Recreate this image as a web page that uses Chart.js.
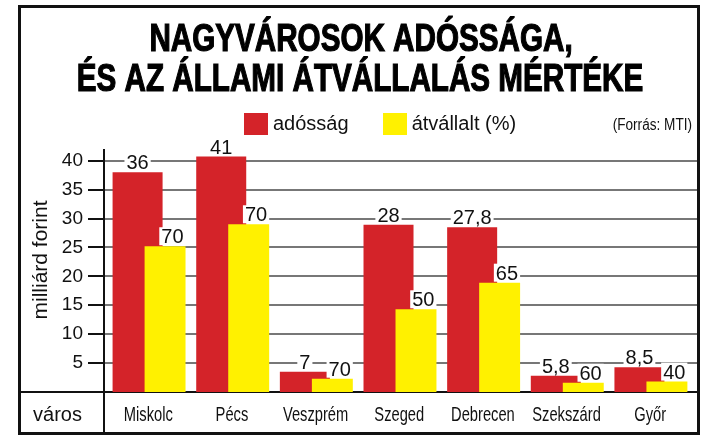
<!DOCTYPE html>
<html>
<head>
<meta charset="utf-8">
<script src="https://cdn.jsdelivr.net/npm/chart.js@4.4.1/dist/chart.umd.min.js"></script>
<style>
  body { margin: 0; background: #fff; }
  #wrap { position: relative; width: 714px; height: 435px; }
  #legend { position: absolute; left: 244px; top: 112px; display: flex; align-items: center;
            font: 20px "Liberation Sans", Arial, sans-serif; color: #111; }
  #legend .item { display: flex; align-items: center; margin-right: 34px; }
  #legend .box { width: 24px; height: 22px; margin-right: 5px; }
</style>
</head>
<body>
<div id="wrap">
  <canvas id="chart" width="714" height="435"></canvas>
  <div id="legend"></div>
</div>
<script>
const titleLines = ['NAGYVÁROSOK ADÓSSÁGA,', 'ÉS AZ ÁLLAMI ÁTVÁLLALÁS MÉRTÉKE'];
const cities = ['Miskolc', 'Pécs', 'Veszprém', 'Szeged', 'Debrecen', 'Szekszárd', 'Győr'];
// bar heights as drawn in the picture (milliárd forint)
const debt = [38, 40.7, 3.5, 28.9, 28.5, 2.8, 4.3];
const debtLabels = ['36', '41', '7', '28', '27,8', '5,8', '8,5'];
const takenOver = [25.2, 29, 2.3, 14.3, 18.9, 1.6, 1.8];
const takenOverPct = ['70', '70', '70', '50', '65', '60', '40'];
const yTicks = [5, 10, 15, 20, 25, 30, 35, 40];

const RED = '#d42329';
const YELLOW = '#fff100';
const SANS = '"Liberation Sans", Arial, sans-serif';

const AXIS_X = 104;   // vertical divider line
const RIGHT_X = 697;  // inner edge of the frame
const BOTTOM_Y = 433;

// text squeezed horizontally, the original uses a condensed face
function squeezed(ctx, text, x, y, font, sx, align, heavy) {
  ctx.save();
  ctx.translate(x, y);
  ctx.scale(sx, 1);
  ctx.font = font;
  ctx.textAlign = align || 'center';
  ctx.fillText(text, 0, 0);
  if (heavy) {
    ctx.lineWidth = heavy;
    ctx.strokeStyle = ctx.fillStyle;
    ctx.strokeText(text, 0, 0);
  }
  ctx.restore();
}

const decorPlugin = {
  id: 'decor',
  beforeDatasetsDraw(chart) {
    const { ctx, chartArea, scales: { x, y } } = chart;
    ctx.save();
    yTicks.forEach(v => {
      const py = Math.round(y.getPixelForValue(v));
      ctx.fillStyle = '#777';
      ctx.fillRect(AXIS_X, py - 1, RIGHT_X - AXIS_X, 2);
      ctx.fillStyle = '#111';
      ctx.fillRect(88, py - 1, AXIS_X - 88, 2);
    });
    const y0 = Math.round(y.getPixelForValue(0));
    ctx.fillStyle = '#111';
    ctx.fillRect(19, y0 - 1, RIGHT_X - 19, 2);
    ctx.fillRect(AXIS_X - 1, Math.round(chartArea.top), 2, BOTTOM_Y - chartArea.top);

    // title
    ctx.fillStyle = '#000';
    ctx.textBaseline = 'alphabetic';
    squeezed(ctx, titleLines[0], 361, 51, 'bold 38px ' + SANS, 0.78, 'center', 1.2);
    squeezed(ctx, titleLines[1], 360, 91, 'bold 38px ' + SANS, 0.78, 'center', 1.2);
    ctx.fillStyle = '#111';
    squeezed(ctx, '(Forrás: MTI)', 692, 130, '16px ' + SANS, 0.85, 'right');

    // axis captions
    ctx.textBaseline = 'middle';
    ctx.font = '21px ' + SANS;
    ctx.textAlign = 'center';
    ctx.save();
    ctx.translate(41, 260);
    ctx.rotate(-Math.PI / 2);
    ctx.fillText('milliárd forint', 0, 0);
    ctx.restore();
    ctx.font = '20px ' + SANS;
    ctx.fillText('város', 57.5, 415);

    // category names
    cities.forEach((name, i) => {
      squeezed(ctx, name, x.getPixelForValue(i) - 3, 415, '21px ' + SANS, 0.7);
    });
    ctx.restore();
  },
  afterDatasetsDraw(chart) {
    const { ctx } = chart;
    ctx.save();
    ctx.font = '20px ' + SANS;
    ctx.textAlign = 'left';
    ctx.textBaseline = 'alphabetic';
    const drawLabels = (meta, labels, centered) => {
      meta.data.forEach((bar, i) => {
        const text = labels[i];
        const w = ctx.measureText(text).width;
        const x = centered ? bar.x - w / 2 : bar.x + bar.width / 2 - 2 - w;
        const base = bar.y - 3;
        ctx.fillStyle = '#fff';
        ctx.fillRect(x - 2, base - 16, w + 4, 18);
        ctx.fillStyle = '#111';
        ctx.fillText(text, x, base);
      });
    };
    drawLabels(chart.getDatasetMeta(2), debtLabels, true);
    drawLabels(chart.getDatasetMeta(1), takenOverPct, false);
    ctx.restore();
  },
  afterDraw(chart) {
    const { ctx } = chart;
    ctx.save();
    ctx.strokeStyle = '#111';
    ctx.lineWidth = 3;
    ctx.strokeRect(19.5, 6.5, 679, 427);
    ctx.restore();
  }
};

const chart = new Chart(document.getElementById('chart'), {
  type: 'bar',
  data: {
    labels: cities,
    datasets: [
      // empty placeholder: keeps the red bars on the left while the yellow ones are drawn over them
      { label: '', data: [], stack: 'a' },
      { label: 'átvállalt (%)', data: takenOver, backgroundColor: YELLOW, stack: 'b', barPercentage: 1.49 },
      { label: 'adósság', data: debt, backgroundColor: RED, stack: 'a', barPercentage: 1.82 }
    ]
  },
  options: {
    responsive: false,
    animation: false,
    devicePixelRatio: 1,
    datasets: { bar: { categoryPercentage: 0.657 } },
    layout: { padding: { left: 19, right: 19, top: 149.1, bottom: 2 } },
    plugins: {
      legend: { display: false },
      tooltip: { enabled: false },
      title: { display: false }
    },
    scales: {
      x: {
        offset: true,
        grid: { display: false, drawTicks: false },
        border: { display: false },
        ticks: { display: false },
        afterFit: s => { s.height = 41; }
      },
      y: {
        min: 0,
        max: 42,
        stacked: false,
        grid: { display: false, drawTicks: false },
        border: { display: false },
        afterBuildTicks: s => { s.ticks = yTicks.map(v => ({ value: v })); },
        ticks: { color: '#111', font: { family: SANS, size: 19 }, padding: 26.5 },
        afterFit: s => { s.width = 90.5; }
      }
    }
  },
  plugins: [decorPlugin]
});

const legend = document.getElementById('legend');
[chart.data.datasets[2], chart.data.datasets[1]].forEach(ds => {
  const item = document.createElement('div');
  item.className = 'item';
  item.innerHTML = `<span class="box" style="background:${ds.backgroundColor}"></span><span>${ds.label}</span>`;
  legend.appendChild(item);
});
</script>
</body>
</html>
